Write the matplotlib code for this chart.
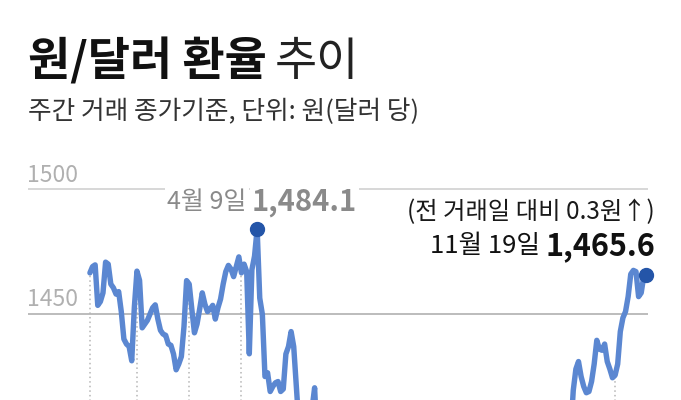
import matplotlib
matplotlib.use('Agg')
import matplotlib.pyplot as plt
import numpy as np

plt.rcParams['font.family'] = ['Noto Sans CJK KR', 'DejaVu Sans']

# won per dollar, daily close, Jan 2 .. Nov 19 (trading days only)
jan = [1466.5, 1469.0, 1469.7, 1453.5, 1455.0, 1458.5, 1470.8, 1470.0, 1462.0, 1460.5,
       1458.0, 1459.0, 1451.0, 1440.0, 1438.0, 1437.0, 1431.3, 1452.7]
feb = [1467.2, 1463.5, 1444.5, 1446.0, 1447.5, 1450.0, 1452.5, 1453.7, 1448.0, 1443.5,
       1442.0, 1441.5, 1438.0, 1437.5, 1434.0, 1427.7, 1430.0, 1433.0, 1445.0, 1463.4]
mar = [1462.0, 1452.0, 1442.5, 1446.0, 1452.0, 1458.5, 1454.0, 1451.0, 1452.0, 1453.5,
       1448.0, 1452.5, 1456.0, 1462.0, 1467.0, 1469.5, 1468.0, 1465.0, 1469.0, 1472.9]
apr = [1466.5, 1470.0, 1467.0, 1434.1, 1467.8, 1473.2, 1484.1, 1456.4, 1449.9, 1425.0,
       1426.5, 1419.0, 1421.0, 1422.5, 1423.0, 1419.0, 1420.0, 1434.0, 1437.0, 1443.0,
       1437.0, 1421.0]
may = [1405.3, 1397.0, 1398.5, 1403.0, 1408.0, 1412.0, 1420.5, 1398.0, 1400.5, 1398.0,
       1390.0, 1387.0, 1380.0, 1385.0, 1368.0, 1371.0, 1379.0, 1387.0, 1380.0]
jun = [1373.0, 1365.0, 1358.0, 1356.0, 1364.0, 1368.0, 1363.0, 1369.0, 1364.0, 1368.0,
       1376.0, 1381.0, 1375.0, 1384.0, 1366.0, 1362.0, 1358.0, 1366.0, 1350.0]
jul = [1357.0, 1364.0, 1363.0, 1366.0, 1364.0, 1373.0, 1370.0, 1375.0, 1380.0, 1376.0,
       1374.0, 1378.0, 1388.0, 1381.0, 1377.0, 1381.0, 1378.0, 1377.0, 1383.0, 1381.0,
       1388.0, 1390.0, 1400.0]
aug = [1391.0, 1387.0, 1386.0, 1381.0, 1383.0, 1388.0, 1389.0, 1385.0, 1383.0, 1389.0,
       1393.0, 1395.0, 1390.0, 1385.0, 1390.0, 1396.0, 1392.0, 1388.0, 1385.0, 1391.0]
sep = [1393.0, 1390.0, 1392.0, 1390.0, 1389.0, 1393.0, 1386.0, 1388.0, 1390.0, 1385.0,
       1383.0, 1386.0, 1393.0, 1392.0, 1390.0, 1394.0, 1397.0, 1401.0, 1406.0, 1407.0,
       1402.0, 1405.0]
oct_ = [1400.5, 1402.5, 1419.5, 1428.0, 1431.0, 1425.0, 1421.0, 1418.5, 1419.0, 1423.0,
        1430.0, 1439.5, 1436.0, 1435.5, 1438.0, 1431.0, 1428.0, 1424.5]
nov = [1425.5, 1430.0, 1443.0, 1448.5, 1451.0, 1457.0, 1466.0, 1467.5, 1467.0, 1457.0,
       1458.5, 1465.3, 1465.6]

months = [jan, feb, mar, apr, may, jun, jul, aug, sep, oct_, nov]
grid_values = [1450, 1500]
peak_label = ('4월 9일', '1,484.1')
last_label = ('11월 19일', '1,465.6')
change_label = '(전 거래일 대비 0.3원↑)'

values = np.concatenate(months)
days = np.arange(len(values))
month_starts = np.cumsum([0] + [len(m) for m in months[:-1]])
peak = int(np.argmax(values))
last = len(values) - 1

W, H = 681, 400
fig = plt.figure(figsize=(W / 100, H / 100), dpi=100)
ax = fig.add_axes([28 / W, 0, 620 / W, 250 / H])
ax.set_xlim(-23.7, 213.6)
ax.set_ylim(1415.6, 1515.7)
ax.axis('off')

line_c = '#5b87d1'
dot_c = '#2455a8'

ax.axhline(1500, color='#cdcdcd', lw=1.1, zorder=1)
ax.axhline(1450, color='#a9a9a9', lw=1.1, zorder=1)
for g in grid_values:
    ax.annotate(str(g), xy=(0, g), xycoords=('axes fraction', 'data'),
                xytext=(-1, 5.5), textcoords='offset points', va='baseline', ha='left',
                fontsize=16.5, color='#b0b0b0', fontweight='light')

ax.vlines(month_starts, 1400, values[month_starts], colors='#b5b5b5',
          linestyles=(0, (1, 2)), lw=1.1, zorder=2)
ax.plot(days, values, color=line_c, lw=3.9, solid_joinstyle='round',
        solid_capstyle='round', zorder=3)
ax.plot([peak, last], [values[peak], values[last]], 'o', ms=10, color=dot_c,
        zorder=4, clip_on=False)

fig.canvas.draw()
renderer = fig.canvas.get_renderer()


def right_pair(x_right, y, left, right, size_l, size_r, color, bg=False):
    box = dict(fc='white', ec='none', pad=1.5) if bg else None
    t2 = fig.text(x_right / W, 1 - y / H, right, ha='right', va='center',
                  fontsize=size_r, fontweight='bold', color=color, bbox=box)
    bb = t2.get_window_extent(renderer)
    fig.text((bb.x0 - 5) / W, 1 - y / H, left, ha='right', va='center',
             fontsize=size_l, color=color, bbox=box)


# title and subtitle
t1 = fig.text(28 / W, 1 - 62 / H, '원/달러 환율', ha='left', va='center',
              fontsize=33, fontweight='bold', color='#111111')
bb = t1.get_window_extent(renderer)
fig.text((bb.x1 + 8) / W, 1 - 62 / H, '추이', ha='left', va='center',
         fontsize=33, fontweight='light', color='#222222')
fig.text(28 / W, 1 - 112 / H, '주간 거래 종가기준, 단위: 원(달러 당)', ha='left',
         va='center', fontsize=18.5, fontweight='light', color='#333333')

right_pair(357, 202, peak_label[0], peak_label[1], 18, 21, '#8a8a8a', bg=True)
fig.text(655 / W, 1 - 212 / H, change_label, ha='right', va='center',
         fontsize=17.5, fontweight='light', color='#1a1a1a')
right_pair(655, 246, last_label[0], last_label[1], 18.5, 22, '#111111')

fig.savefig('out.png', dpi=100, facecolor='white')
